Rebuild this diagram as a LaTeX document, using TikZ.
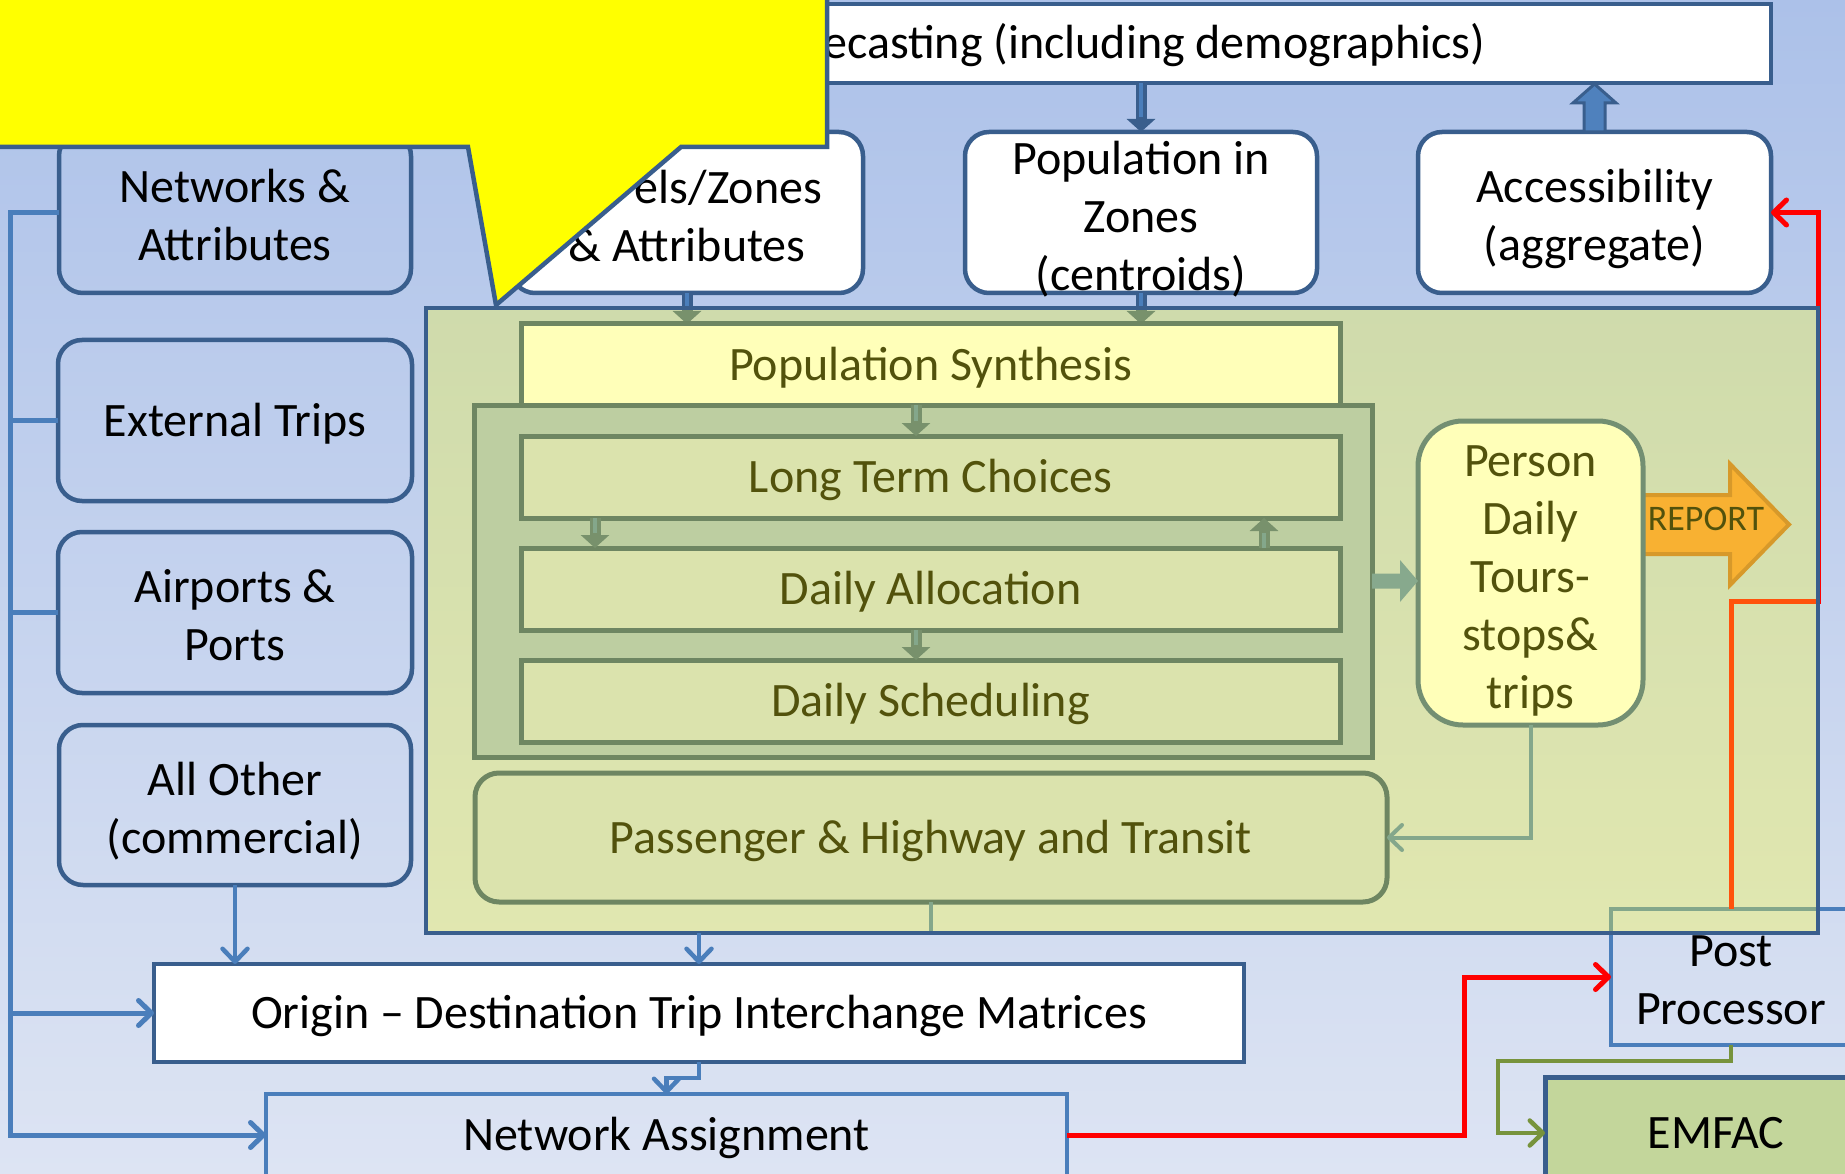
\documentclass[tikz,border=0pt]{standalone}
\usepackage{fontspec}
\setmainfont{Carlito}
\usetikzlibrary{arrows.meta,calc}

\definecolor{bgtop}{RGB}{172,193,233}
\definecolor{bgbot}{RGB}{221,228,243}
\definecolor{darkblue}{RGB}{57,94,141}
\definecolor{medblue}{RGB}{74,126,187}
\definecolor{arrowfill}{RGB}{79,129,189}
\definecolor{innerborder}{RGB}{42,78,126}
\definecolor{personborder}{RGB}{50,90,150}
\definecolor{innerfill}{RGB}{159,184,219}
\definecolor{boxfill}{RGB}{203,215,237}
\definecolor{ovl}{RGB}{255,255,40}
\definecolor{reportfill}{RGB}{246,141,56}
\definecolor{reportdraw}{RGB}{197,106,44}
\definecolor{emfacfill}{RGB}{195,214,155}
\definecolor{oliveline}{RGB}{119,147,60}
\definecolor{callyel}{RGB}{255,255,0}

% taller strut for the first line of multi-line labels
\newcommand\up[1][1.06em]{\rule{0pt}{#1}}

\tikzset{
  every node/.style={font=\fontsize{48}{58}\selectfont, inner sep=0pt, outer sep=0pt, align=center,
    execute at begin node={\rule{0pt}{0.9em}},
    execute at end node={\rule[-0.25em]{0pt}{0.25em}}},
  sz/.style 2 args={minimum width=#1, minimum height=#2},
  lbox/.style={draw=darkblue, line width=4.5pt, rounded corners=24pt},
  rbox/.style={lbox, fill=white},
  wbox/.style={draw=darkblue, line width=4.5pt, fill=white},
  ibox/.style={draw=innerborder, line width=5pt},
  conn/.style={draw=medblue, line width=4.5pt},
  barb/.style={-{Straight Barb[length=13pt,width=25pt,round]}},
  redline/.style={draw=red, line width=5pt},
  olivel/.style={draw=oliveline, line width=4.5pt},
}

% two-tone shaft arrow between two points
\newcommand\dshaft[2]{%
  \draw[line width=11pt, darkblue, -{Triangle[length=13pt,width=28pt]}] #1 -- #2;
  \draw[line width=3.5pt, medblue, shorten >=15pt] #1 -- #2;}

\begin{document}
\begin{tikzpicture}[x=1pt,y=-1pt]
\useasboundingbox (0,0) rectangle (1845,1174);
\clip (0,0) rectangle (1845,1174);
\shade[top color=bgtop, bottom color=bgbot] (0,0) rectangle (1845,1174);

% frame of the activity-based model (tinted later)
\path node[sz={1392pt}{625pt}] (frame) at (1122,620.5) {};

% left column of inputs
\node[lbox, sz={352pt}{161pt}] (net) at (235,212.5) {\up Networks \&\\Attributes};
\node[lbox, sz={354pt}{161pt}] (ext) at (235,420.5) {External Trips};
\node[lbox, sz={354pt}{161pt}] (air) at (235,612.5) {\up Airports \&\\Ports};
\node[lbox, sz={352pt}{160pt}] (oth) at (235,805) {\up All Other\\(commercial)};

% top row
\node[wbox, sz={1211pt}{79pt}] (fore) at (1165.5,43.5) {};
\node[anchor=base east] (foretxt) at (1485,59) {ecasting (including demographics)};
\node[rbox, sz={352pt}{161pt}] (parc) at (687,212.5) {\up[1.08em]\phantom{Parc}els/Zones\\\& Attributes};
\node[rbox, sz={352pt}{161pt}] (zones) at (1141,212.5) {};
\node (zonestxt) at (zones.center) {\up[1.075em]Population in\\Zones\\(centroids)};
\node[rbox, sz={353pt}{161pt}] (acc) at (1594.5,212.5) {\up Accessibility\\(aggregate)};

% bottom row
\node[wbox, sz={1090pt}{98pt}] (od) at (699,1013) {Origin – Destination Trip Interchange Matrices};
\node[draw=medblue, line width=4.5pt, sz={801pt}{82pt}] (na) at (666.5,1135) {Network Assignment};
\node[draw=medblue, line width=4.5pt, sz={240pt}{136pt}] (pp) at (1731,977) {\up[1.04em]Post\\Processor};
\node[draw=darkblue, line width=5pt, fill=emfacfill, sz={342pt}{112pt}] (emfac) at (1716,1133) {EMFAC};

% top arrows
\dshaft{(zones.north |- fore.south)}{(zones.north)}
\draw[fill=arrowfill, draw=darkblue, line width=3pt, line join=miter]
  ($(acc.north)+(-10.5,0)$) -- ($(acc.north |- fore.south)+(-10.5,20)$)
  -- ($(acc.north |- fore.south)+(-21.5,20)$) -- ($(acc.north |- fore.south)+(0,1)$)
  -- ($(acc.north |- fore.south)+(21.5,20)$) -- ($(acc.north |- fore.south)+(10.5,20)$)
  -- ($(acc.north)+(10.5,0)$) -- cycle;

% feedback from post processor to accessibility
\draw[redline, barb] (pp.north) -- ++(0,-308) -| (frame.east |- acc.east) -- (acc.east);

% inputs into the model frame
\dshaft{(parc.south)}{(parc.south |- 0,324)}
\dshaft{(zones.south)}{(zones.south |- 0,324)}

% activity-based model chain
\node[ibox, fill=white, sz={819pt}{81pt}] (popsyn) at (930.5,364.5) {Population Synthesis};
\node[ibox, fill=innerfill, sz={898pt}{352pt}] (inner) at (923,581) {};
\node[ibox, fill=boxfill, sz={819pt}{82pt}] (ltc) at (930.5,477) {Long Term Choices};
\node[ibox, fill=boxfill, sz={819pt}{82pt}] (dalloc) at (930.5,589) {Daily Allocation};
\node[ibox, fill=boxfill, sz={819pt}{82pt}] (dsched) at (930.5,701) {Daily Scheduling};
\dshaft{([xshift=-14.5pt]popsyn.south)}{([xshift=-14.5pt]ltc.north)}
\dshaft{([xshift=-335.5pt]ltc.south)}{([xshift=-335.5pt]dalloc.north)}
\dshaft{([xshift=333.5pt]dalloc.north)}{([xshift=333.5pt]ltc.south)}
\dshaft{([xshift=-14.5pt]dalloc.south)}{([xshift=-14.5pt]dsched.north)}

% outputs of the chain
\coordinate (rep) at ([yshift=48.5pt]1643,573);
\draw[fill=reportfill, draw=reportdraw, line width=4pt, line join=miter]
  ($(rep)+(0,-29.5)$) -- ($(rep)+(87,-29.5)$) -- ($(rep)+(87,-60.5)$)
  -- ($(rep)+(146,0)$) -- ($(rep)+(87,60.5)$) -- ($(rep)+(87,29.5)$)
  -- ($(rep)+(0,29.5)$) -- cycle;
\node[font=\fontsize{36}{40}\selectfont, anchor=base] (reptxt) at (1706,530) {REPORT};
\node[draw=personborder, line width=5pt, fill=white, rounded corners=45pt, sz={225pt}{304pt}] (person) at (1530.5,573) {\up[1.08em]Person\\Daily\\Tours-\\stops\&\\trips};
\fill[arrowfill]
  ($(inner.east)+(0,-7.5)$) -- ($(inner.east -| person.west)+(-18,-7.5)$)
  -- ($(inner.east -| person.west)+(-18,-21)$) -- (inner.east -| person.west)
  -- ($(inner.east -| person.west)+(-18,21)$) -- ($(inner.east -| person.west)+(-18,7.5)$)
  -- ($(inner.east)+(0,7.5)$) -- cycle;
\node[ibox, fill=boxfill, rounded corners=24pt, sz={912pt}{129pt}] (pass) at (931,837.5) {Passenger \& Highway and Transit};
\draw[conn, line width=4pt, barb] (person.south) |- (pass.east);
\draw[conn, line width=4pt] (pass.south) -- (pass.south |- frame.south);

% translucent tint over the model frame
\fill[ovl, fill opacity=0.32] (frame.south west) rectangle (frame.north east);
\draw[darkblue, line width=4.5pt] (frame.south west) rectangle (frame.north east);

% input bus on the left
\coordinate (bus) at (10,212.5);
\draw[conn, line width=5pt, barb] (net.west) -- (net.west -| bus) -- (bus |- na.west) -- (na.west);
\draw[conn, line width=5pt, barb] (bus |- od.west) -- (od.west);
\draw[conn, line width=5pt] (ext.west) -- (ext.west -| bus);
\draw[conn, line width=5pt] (air.west) -- (air.west -| bus);

% flows into the matrices and assignment
\draw[conn, barb] (oth.south) -- (oth.south |- od.north);
\draw[conn, barb] (od.north |- frame.south) -- (od.north);
\draw[conn, barb] (od.south) -- ++(0,16) -| (na.north);
\draw[redline, barb] (na.east) -- ++(397,0) |- (pp.west);
\draw[olivel, barb] (pp.south) -- ++(0,16) -- ++(-233,0) |- (emfac.west);

% callout in the top left corner
\draw[fill=callyel, draw=darkblue, line width=4.5pt, line join=miter]
  (-30,-30) -- (827,-30) -- (827,147) -- (681,147) -- (496,305) -- (468,147) -- (-30,147) -- cycle;
\end{tikzpicture}
\end{document}
